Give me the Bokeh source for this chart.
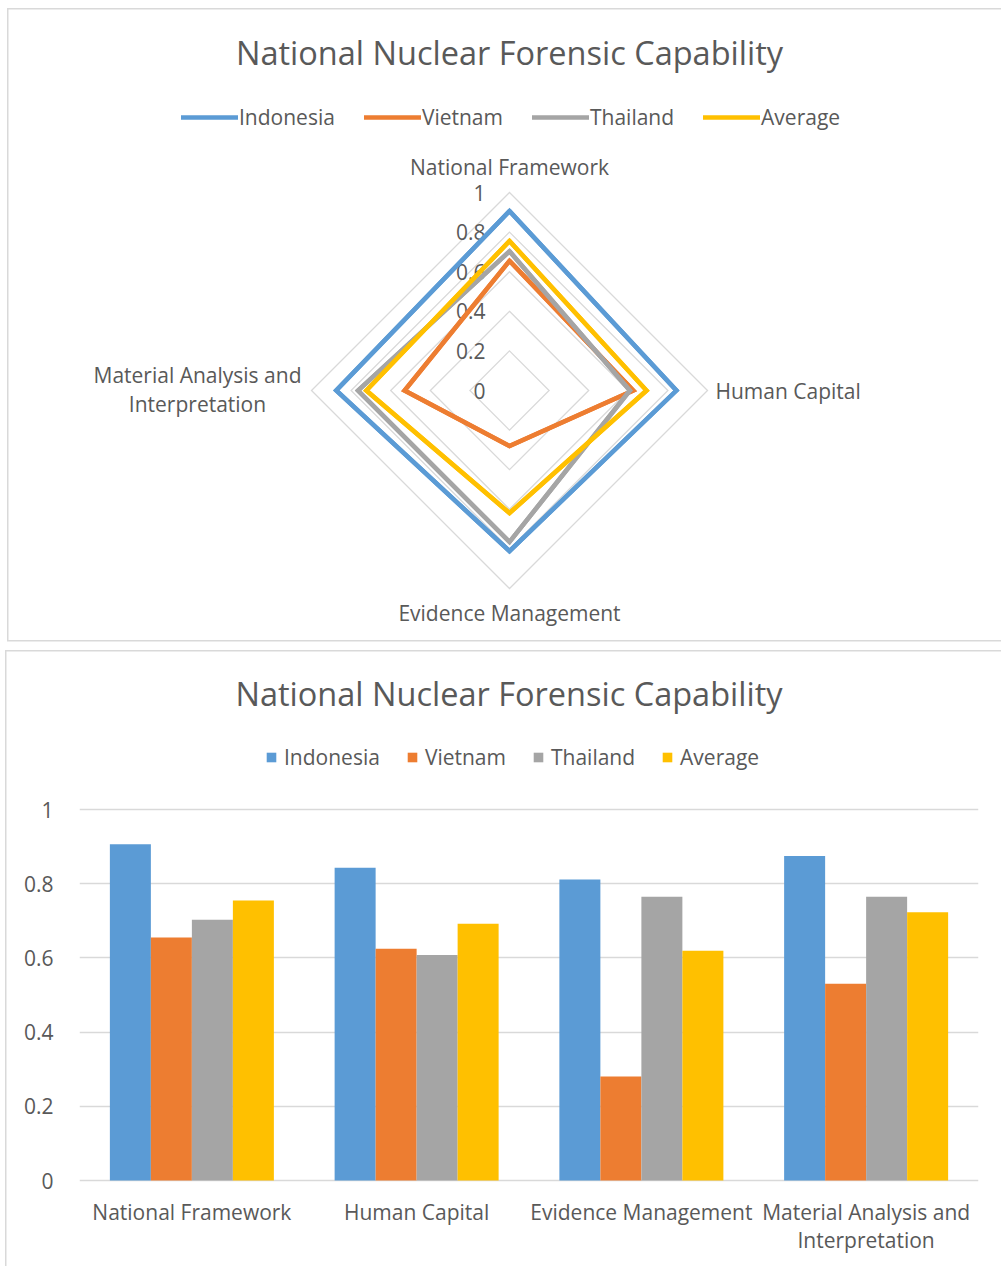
import numpy as np
from bokeh.plotting import figure
from bokeh.models import (ColumnDataSource, Range1d, FactorRange, FixedTicker,
                          NumeralTickFormatter, Legend, LegendItem, Label)
from bokeh.transform import dodge
from bokeh.core.properties import value
from bokeh.embed import file_html
from bokeh.resources import INLINE

# ---------------- data ----------------
TITLE = "National Nuclear Forensic Capability"
categories = ["National Framework", "Human Capital", "Evidence Management",
              "Material Analysis and Interpretation"]
category_lines = ["National Framework", "Human Capital", "Evidence Management",
                  "Material Analysis and\nInterpretation"]
series_names = ["Indonesia", "Vietnam", "Thailand", "Average"]
indonesia = [0.906, 0.843, 0.811, 0.875]
vietnam = [0.655, 0.625, 0.280, 0.530]
thailand = [0.703, 0.608, 0.765, 0.765]
average = [0.755, 0.692, 0.619, 0.723]
ring_levels = [0.2, 0.4, 0.6, 0.8, 1.0]
tick_values = [0, 0.2, 0.4, 0.6, 0.8, 1.0]
tick_labels = ["0", "0.2", "0.4", "0.6", "0.8", "1"]

colors = ["#5B9BD5", "#ED7D31", "#A5A5A5", "#FFC000"]
series_values = [indonesia, vietnam, thailand, average]

FONT = "Open Sans"
TXT = "#595959"
GRID = "#D9D9D9"
FS = "21px"
TFS = "32.5px"
W = 1001


def panel_border(left, top, bottom=None):
    """CSS lines for the chart-area border (left, top and optional bottom edge)."""
    g = "linear-gradient(#D9D9D9, #D9D9D9)"
    imgs = [g, g]
    pos = [f"{left}px {top}px", f"{left}px {top}px"]
    size = [f"1.5px {(bottom - top) if bottom else 2000}px", "100% 1.5px"]
    if bottom:
        imgs.append(g)
        pos.append(f"{left}px {bottom}px")
        size.append("100% 1.5px")
    return {"background-image": ", ".join(imgs), "background-position": ", ".join(pos),
            "background-size": ", ".join(size), "background-repeat": "no-repeat"}


# ---------------- radar chart ----------------
H1 = 645
fl, fr, ft, fb = 7, 1001, 8, 640          # panel edges in px
cx, cy = 509, 390                          # radar centre in px
RPX = 198                                  # px for value 1.0

radar = figure(width=W, height=H1, output_backend="svg", toolbar_location=None,
               x_range=Range1d((fl - cx) / RPX, (fr - cx) / RPX),
               y_range=Range1d((cy - fb) / RPX, (cy - ft) / RPX),
               x_axis_location=None, y_axis_location=None,
               min_border_left=fl, min_border_right=W - fr,
               min_border_top=ft, min_border_bottom=H1 - fb)
radar.grid.visible = False
radar.outline_line_color = None
radar.border_fill_alpha = 0
radar.background_fill_alpha = 0
radar.styles = panel_border(fl, ft, fb)

theta = np.pi / 2 - np.arange(len(categories)) * np.pi / 2
ct, st = np.cos(theta), np.sin(theta)

radar.patches(xs=[list(r * ct) for r in ring_levels], ys=[list(r * st) for r in ring_levels],
              fill_alpha=0, line_color=GRID, line_width=1.3, line_join="miter")

radar.text(x=[0] * len(tick_values), y=tick_values, text=tick_labels,
           x_offset=-24, text_align="right", text_baseline="middle",
           text_font=value(FONT), text_font_size=FS, text_color=TXT)

# category labels at the outer vertices
lab_cfg = [dict(x_offset=0, y_offset=-26, text_align="center"),
           dict(x_offset=8, y_offset=0, text_align="left"),
           dict(x_offset=0, y_offset=24, text_align="center"),
           dict(x_offset=-114, y_offset=-1, text_align="center")]
for i, txt in enumerate(category_lines):
    radar.text(x=[ct[i]], y=[st[i]], text=[txt], text_baseline="middle",
               text_font=value(FONT), text_font_size=FS, text_color=TXT,
               text_line_height=1.06, **lab_cfg[i])

items = []
for name, vals, col in zip(series_names, series_values, colors):
    v = np.array(vals)
    xs, ys = list(v * ct), list(v * st)
    lr = radar.line(xs + xs[:1], ys + ys[:1], line_color=col, line_width=4.5,
                    line_cap="round", line_join="miter")
    radar.patch(xs, ys, fill_alpha=0, line_color=col, line_width=4.5, line_join="miter")
    items.append(LegendItem(label=name, renderers=[lr]))

leg1 = Legend(items=items, orientation="horizontal", location=(174, 640 - 131),
              border_line_color=None, background_fill_alpha=0,
              label_text_font=FONT, label_text_font_size=FS, label_text_color=TXT,
              glyph_width=57, glyph_height=28, label_height=28, label_standoff=1,
              spacing=29, padding=0, margin=0)
radar.add_layout(leg1)

radar.add_layout(Label(x=cx - fl, y=fb - 52, x_units="screen", y_units="screen",
                       text=TITLE, text_align="center", text_baseline="middle",
                       text_font=FONT, text_font_size=TFS, text_color=TXT))

# ---------------- bar chart ----------------
H2 = 1266 - H1
top0 = H1
bl, br, bt, base = 79, 978, 650, 1180     # frame left/right/top, zero line (page px)
UPX = 371                                  # px for value 1.0

src = ColumnDataSource(dict(cat=categories, label=category_lines, zero=[0] * len(categories),
                            Indonesia=indonesia, Vietnam=vietnam,
                            Thailand=thailand, Average=average))

bar = figure(width=W, height=H2, output_backend="svg", toolbar_location=None,
             x_range=FactorRange(*categories),
             y_range=Range1d(-(top0 + H2 - base) / UPX, (base - bt) / UPX),
             x_axis_location=None,
             min_border_left=bl, min_border_right=W - br,
             min_border_top=bt - top0, min_border_bottom=0)
bar.outline_line_color = None
bar.border_fill_alpha = 0
bar.background_fill_alpha = 0
bar.styles = panel_border(5, 5)
bar.xgrid.visible = False
bar.ygrid.ticker = FixedTicker(ticks=tick_values)
bar.ygrid.grid_line_color = GRID
bar.ygrid.grid_line_width = 1.3

bar.yaxis.ticker = FixedTicker(ticks=tick_values)
bar.yaxis.formatter = NumeralTickFormatter(format="0.[0]")
bar.yaxis.axis_line_color = None
bar.yaxis.major_tick_line_color = None
bar.yaxis.minor_tick_line_color = None
bar.yaxis.major_label_standoff = 20
bar.yaxis.major_label_text_font = FONT
bar.yaxis.major_label_text_font_size = FS
bar.yaxis.major_label_text_color = TXT

bw = 41 / (899 / 4)
offs = [-1.5 * bw, -0.5 * bw, 0.5 * bw, 1.5 * bw]
bitems = []
for name, col, off in zip(series_names, colors, offs):
    r = bar.vbar(x=dodge("cat", off, range=bar.x_range), top=name, width=bw, source=src,
                 fill_color=col, line_color=None)
    bitems.append(LegendItem(label=name, renderers=[r]))

# category labels under the zero line
bar.text(x="cat", y="zero", text="label", source=src, y_offset=17,
         text_align="center", text_baseline="top", text_line_height=1.02,
         text_font=value(FONT), text_font_size=FS, text_color=TXT)

leg2 = Legend(items=bitems, orientation="horizontal", location=(186, 1266 - 771),
              border_line_color=None, background_fill_alpha=0,
              label_text_font=FONT, label_text_font_size=FS, label_text_color=TXT,
              glyph_width=12, glyph_height=12, label_height=24, label_standoff=7,
              spacing=26, padding=0, margin=0)
bar.add_layout(leg2)

bar.add_layout(Label(x=508.5 - bl, y=1266 - 693, x_units="screen", y_units="screen",
                     text=TITLE, text_align="center", text_baseline="middle",
                     text_font=FONT, text_font_size=TFS, text_color=TXT))

open("out.html", "w").write(file_html([radar, bar], INLINE))
